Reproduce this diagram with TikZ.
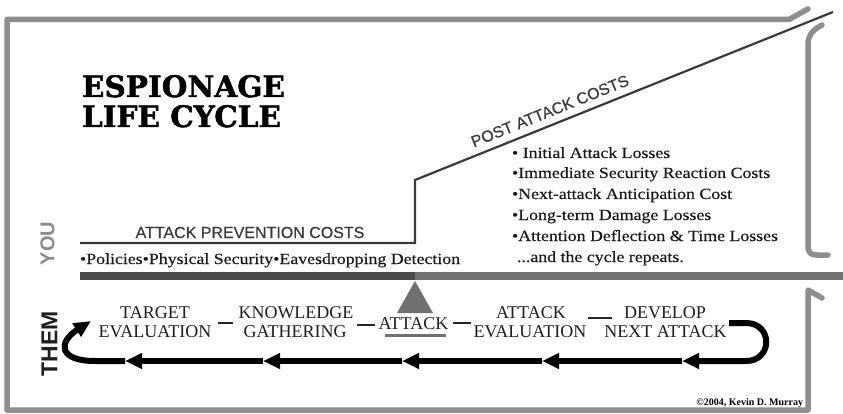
\documentclass[tikz,border=0pt]{standalone}
\usepackage{fontspec}
\setmainfont{Liberation Serif}
\newfontfamily\titlef[FakeBold=1.6]{DejaVu Serif}
\newfontfamily\sidef{Liberation Sans}
\newfontfamily\sansmed[FakeBold=0.5]{Liberation Sans}
\newfontfamily\bodyf[FakeStretch=1.15,FakeBold=0.3]{Liberation Serif}
\usetikzlibrary{arrows.meta}
\definecolor{framegray}{HTML}{8E8E8E}
\definecolor{bardark}{HTML}{4B4B4B}
\definecolor{barlight}{HTML}{727272}
\definecolor{trigray}{HTML}{707070}
\definecolor{textgray}{HTML}{3A3A3A}
\definecolor{yougray}{HTML}{8A8A8A}
\begin{document}
\begin{tikzpicture}[x=1pt,y=-1pt,
  every node/.style={inner sep=0pt,outer sep=0pt},
  frame/.style={draw=framegray,line width=5.5pt,line cap=round,line join=round},
  costline/.style={draw=textgray,line width=2.2pt,line join=miter},
  loopline/.style={draw=black,line width=6pt},
  tipl/.style={-{Triangle[length=17pt,width=15pt]}},
  dashl/.style={draw=black!85,line width=2.2pt},
  title/.style={font=\titlef\bfseries\fontsize{29.5}{29.5}\selectfont,anchor=base west},
  listitem/.style={font=\bodyf\fontsize{15.5}{15.5}\selectfont,anchor=base west,text=black!90},
  caps/.style={font=\fontsize{18}{18}\selectfont,anchor=base,text=black!88},
  sidelabel/.style={font=\sidef\bfseries,rotate=90,anchor=center}
]
\useasboundingbox (0,0) rectangle (843,414);
\fill[white] (0,0) rectangle (843,414);

% frame and brackets
\draw[frame] (808,9) -- (789,19.5) -- (7,19.5) -- (7,410) -- (808,410) -- (808,290) -- (822,298);
\draw[frame] (822,25) .. controls (811,31) and (808,36) .. (808,45) -- (808,246)
  .. controls (808,253) and (811,255) .. (817,255) -- (828,255);

% title
\node[title] (t1) at (82,97) {ESPIONAGE};
\node[title] (t2) at (82,127) {LIFE CYCLE};

% side labels
\node[sidelabel,text=yougray,font=\sidef\bfseries\fontsize{20}{20}\selectfont] (you) at (47.5,243.5) {YOU};
\node[sidelabel,text=black!88,font=\sidef\bfseries\fontsize{23}{23}\selectfont] (them) at (49.5,344) {THEM};

% cost line
\coordinate (p0) at (80,243);
\coordinate (p1) at (415,243);
\coordinate (p2) at (415,180);
\coordinate (p3) at (833,12);
\draw[costline] (p0) -- (p1) -- (p2) -- (p3)
  node[pos=0.335,sloped,above=8pt,font=\sansmed\fontsize{16}{16}\selectfont,text=textgray] (post) {POST ATTACK COSTS};
\node[font=\sansmed\fontsize{16}{16}\selectfont,text=textgray,anchor=base] (apc) at (250,238) {ATTACK PREVENTION COSTS};
\node[listitem] (pol) at (80,264) {\textbullet Policies\textbullet Physical Security\textbullet Eavesdropping Detection};

% post attack list
\node[listitem] (l1) at (512,158) {\textbullet\ Initial Attack Losses};
\node[listitem] (l2) at (512,178) {\textbullet Immediate Security Reaction Costs};
\node[listitem] (l3) at (512,199) {\textbullet Next-attack Anticipation Cost};
\node[listitem] (l4) at (512,220) {\textbullet Long-term Damage Losses};
\node[listitem] (l5) at (512,241) {\textbullet Attention Deflection \& Time Losses};
\node[listitem] (l6) at (517,262) {...and the cycle repeats.};

% divider bar and attack marker
\fill[bardark] (80,272) rectangle (415,280);
\fill[barlight] (415,272) rectangle (843,280);
\fill[trigray] (415,281) -- (433,313) -- (397,313) -- cycle;

% cycle stages
\node[caps] (tg1) at (155,318) {TARGET};
\node[caps] (tg2) at (155,337) {EVALUATION};
\node[caps] (kg1) at (296,318) {KNOWLEDGE};
\node[caps] (kg2) at (295,337) {GATHERING};
\node[caps] (atk) at (413.5,329) {ATTACK};
\node[caps] (ae1) at (531,318) {ATTACK};
\node[caps] (ae2) at (530,337) {EVALUATION};
\node[caps] (dn1) at (665,318) {DEVELOP};
\node[caps] (dn2) at (665.5,337) {NEXT ATTACK};

\coordinate (y318) at (0,318);
\coordinate (y323) at (0,323);
\coordinate (y325) at (0,325);
\draw[dashl,shorten <=6.5pt,shorten >=10.5pt] (tg2.east |- y323) -- (kg2.west |- y323);
\draw[dashl,shorten <=10.5pt,shorten >=4pt] (kg2.east |- y325) -- (atk.west |- y325);
\draw[dashl,shorten <=5pt,shorten >=2.5pt] (atk.east |- y323) -- (ae2.west |- y323);
\draw[dashl,shorten <=22.5pt,shorten >=12pt] (ae1.east |- y318) -- (dn1.west |- y318);
\draw[draw=trigray,line width=3.5pt] ([xshift=6pt,yshift=-6.5pt]atk.south west) -- ([xshift=-2pt,yshift=-6.5pt]atk.south east);

% loop
\coordinate (c0) at (125,361);
\coordinate (c1) at (263,361);
\coordinate (c2) at (402,361);
\coordinate (c3) at (542,361);
\coordinate (c4) at (682,361);
\coordinate (rs) at (729,323);
\coordinate (lt) at (91,321);
\draw[loopline,tipl] (rs) -- (746,323) .. controls (773,323) and (773,361) .. (746,361) -- (c4);
\draw[loopline,tipl] (c4) -- (c3);
\draw[loopline,tipl] (c3) -- (c2);
\draw[loopline,tipl] (c2) -- (c1);
\draw[loopline,tipl] (c1) -- (c0);
\draw[loopline,tipl] (c0) -- (95,361) .. controls (58,361) and (58,342) .. (lt);

% credit
\node[font=\bfseries\fontsize{10}{10}\selectfont,anchor=base east] (cr) at (803,405) {\textcopyright2004, Kevin D. Murray};
\end{tikzpicture}
\end{document}
